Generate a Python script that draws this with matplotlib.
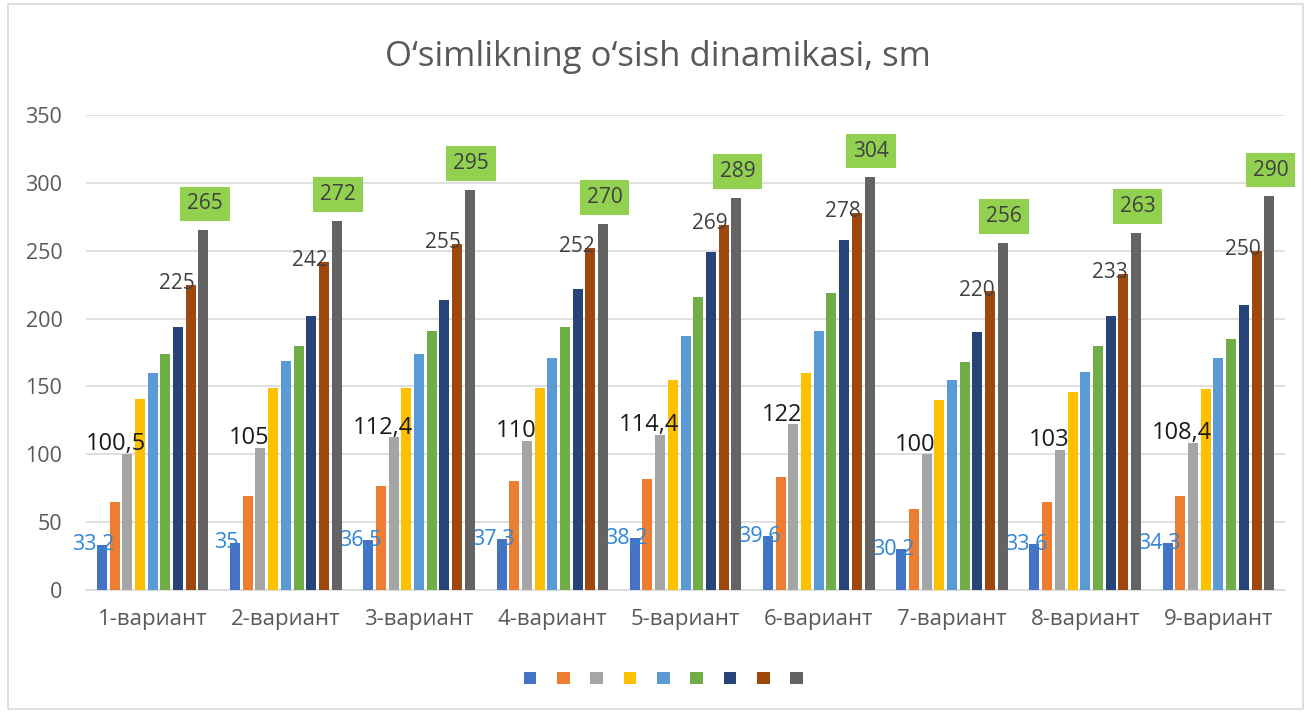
import matplotlib.pyplot as plt
from matplotlib.patches import Patch, Rectangle
import numpy as np

plt.rcParams['font.family'] = ['Open Sans', 'DejaVu Sans']

title = 'O‘simlikning o‘sish dinamikasi, sm'
categories = ['1-вариант', '2-вариант', '3-вариант', '4-вариант', '5-вариант',
              '6-вариант', '7-вариант', '8-вариант', '9-вариант']

s1 = [33.2, 35, 36.5, 37.3, 38.2, 39.6, 30.2, 33.6, 34.3]
s2 = [65, 69, 77, 80, 82, 83, 60, 65, 69]
s3 = [100.5, 105, 112.4, 110, 114.4, 122, 100, 103, 108.4]
s4 = [141, 149, 149, 149, 155, 160, 140, 146, 148]
s5 = [160, 169, 174, 171, 187, 191, 155, 161, 171]
s6 = [174, 180, 191, 194, 216, 219, 168, 180, 185]
s7 = [194, 202, 214, 222, 249, 258, 190, 202, 210]
s8 = [225, 242, 255, 252, 269, 278, 220, 233, 250]
s9 = [265, 272, 295, 270, 289, 304, 256, 263, 290]

series = [s1, s2, s3, s4, s5, s6, s7, s8, s9]
colors = ['#4472C4', '#ED7D31', '#A5A5A5', '#FFC000', '#5B9BD5',
          '#70AD47', '#264478', '#9E480E', '#636363']

fig = plt.figure(figsize=(13.11, 7.13), dpi=100)
ax = fig.add_axes([0.0656, 0.1725, 0.9146, 0.6662])

x = np.arange(len(categories))
step = 0.0953
width = 0.075

def fmt(v):
    s = ('%g' % v)
    return s.replace('.', ',')

for i, (vals, c) in enumerate(zip(series, colors)):
    xi = x + (i - 4) * step
    ax.bar(xi, vals, width=width, color=c, zorder=3)
    for xx, v in zip(xi, vals):
        if i == 0:
            ax.annotate(fmt(v), (xx, v), xytext=(-6, 0), textcoords='offset points',
                        ha='center', va='center', fontsize=15.5, color='#2F86D6', zorder=5)
        elif i == 2:
            ax.annotate(fmt(v), (xx, v), xytext=(-8, 7), textcoords='offset points',
                        ha='center', va='center', fontsize=17, color='#1a1a1a', zorder=5)
        elif i == 7:
            ax.annotate(fmt(v), (xx, v), xytext=(3, 1), textcoords='offset points',
                        ha='right', va='center', fontsize=15, color='#404040', zorder=5)
        elif i == 8:
            ax.annotate(fmt(v), (xx, v), xytext=(1, 19), textcoords='offset points',
                        ha='center', va='center', fontsize=15, color='#404040', zorder=5,
                        bbox=dict(boxstyle='square,pad=0.33', fc='#92D050', ec='none'))

ax.set_xlim(-0.5, len(categories) - 0.5)
ax.set_ylim(0, 350)
ax.set_yticks(range(0, 351, 50))
ax.set_xticks(x)
ax.set_xticklabels(categories)
ax.tick_params(length=0, colors='#595959')
ax.tick_params(axis='x', pad=14, labelsize=16)
ax.tick_params(axis='y', pad=17, labelsize=15.5)
ax.grid(axis='y', color='#D9D9D9', linewidth=1.2, zorder=0)
for sp in ['top', 'right', 'left']:
    ax.spines[sp].set_visible(False)
ax.spines['bottom'].set_color('#D9D9D9')
ax.spines['bottom'].set_linewidth(1.2)

fig.text(0.502, 0.92, title, ha='center', va='center', fontsize=25, color='#595959')

handles = [Patch(facecolor=c) for c in colors]
fig.legend(handles, [''] * 9, loc='center', bbox_to_anchor=(0.506, 0.047), ncol=9,
           frameon=False, handlelength=0.75, handleheight=0.75, handletextpad=0.0,
           columnspacing=1.25, fontsize=12)

fig.patches.append(Rectangle((0.006, 0.006), 0.988, 0.988, transform=fig.transFigure,
                             fill=False, edgecolor='#D9D9D9', linewidth=1.2))

fig.savefig('out.png', dpi=100)
